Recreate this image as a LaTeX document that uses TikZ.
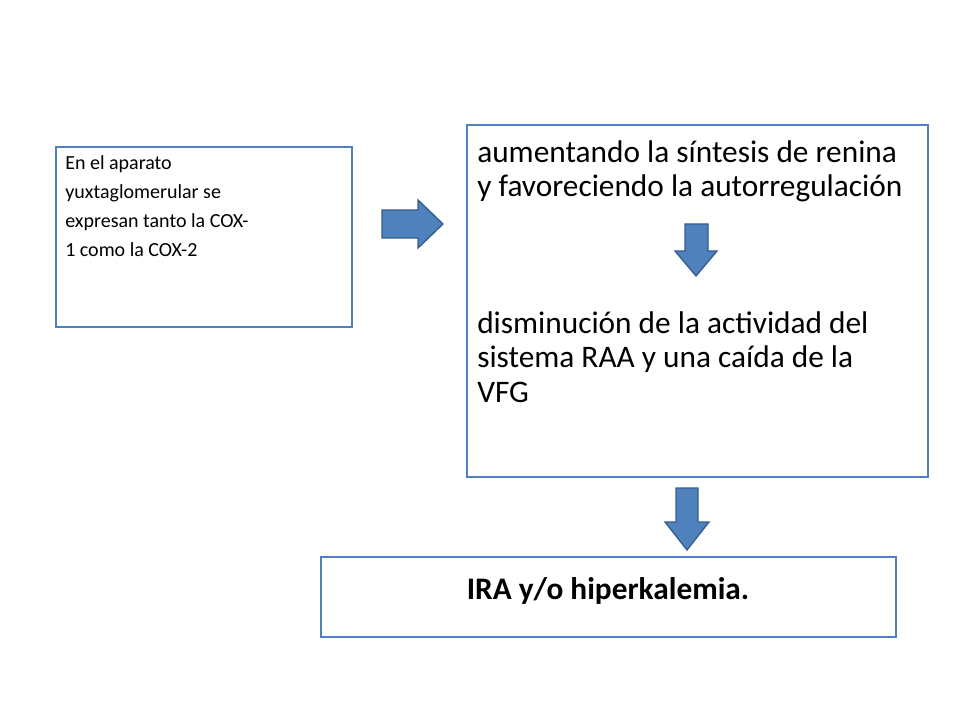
\documentclass[tikz,border=0pt]{standalone}
\usepackage{fontspec}
\setmainfont{Carlito}
\usetikzlibrary{positioning}
\definecolor{boxBlue}{HTML}{4F81BD}
\definecolor{boxEdge}{HTML}{385D8A}
\tikzset{
  panel/.style={draw=boxBlue, line width=1.5pt, fill=white},
  blockarrow/.style={fill=boxBlue, draw=boxEdge, line width=1pt, line join=miter}
}
\begin{document}
\begin{tikzpicture}[x=0.75pt,y=-0.75pt]
  \useasboundingbox (0,0) rectangle (960,720);

  % boxes
  \draw[panel] (56,147) rectangle (352,327);
  \draw[panel] (467,125) rectangle (928,477);
  \draw[panel] (321,557) rectangle (896,637);

  % texts
  \node[anchor=north west, inner sep=0pt, align=left,
        font=\fontsize{15}{21.75}\selectfont] (cox) at (65,155)
    {En el aparato\\ yuxtaglomerular se\\ expresan tanto la COX-\\ 1 como la COX-2};
  \node[anchor=north west, inner sep=0pt, align=left,
        font=\fontsize{23.5}{26}\selectfont] (renina) at (477,140)
    {aumentando la síntesis de renina\\ y favoreciendo la autorregulación};
  \node[anchor=north west, inner sep=0pt, align=left,
        font=\fontsize{23.5}{26}\selectfont] (raa) at (477,311)
    {disminución de la actividad del\\ sistema RAA y una caída de la\\ VFG};
  \node[font=\fontsize{23.5}{26}\selectfont\bfseries] (ira) at (608,591)
    {IRA y/o hiperkalemia.};

  % block arrows
  \draw[blockarrow] (382,210) -- (418,210) -- (418,200) -- (443,224)
    -- (418,248) -- (418,238) -- (382,238) -- cycle;
  \draw[blockarrow] (685,224) -- (708,224) -- (708,251) -- (717,251)
    -- (696,276) -- (675,251) -- (685,251) -- cycle;
  \draw[blockarrow] (676,488) -- (698,488) -- (698,522) -- (709,522)
    -- (687,550) -- (665,522) -- (676,522) -- cycle;
\end{tikzpicture}
\end{document}
